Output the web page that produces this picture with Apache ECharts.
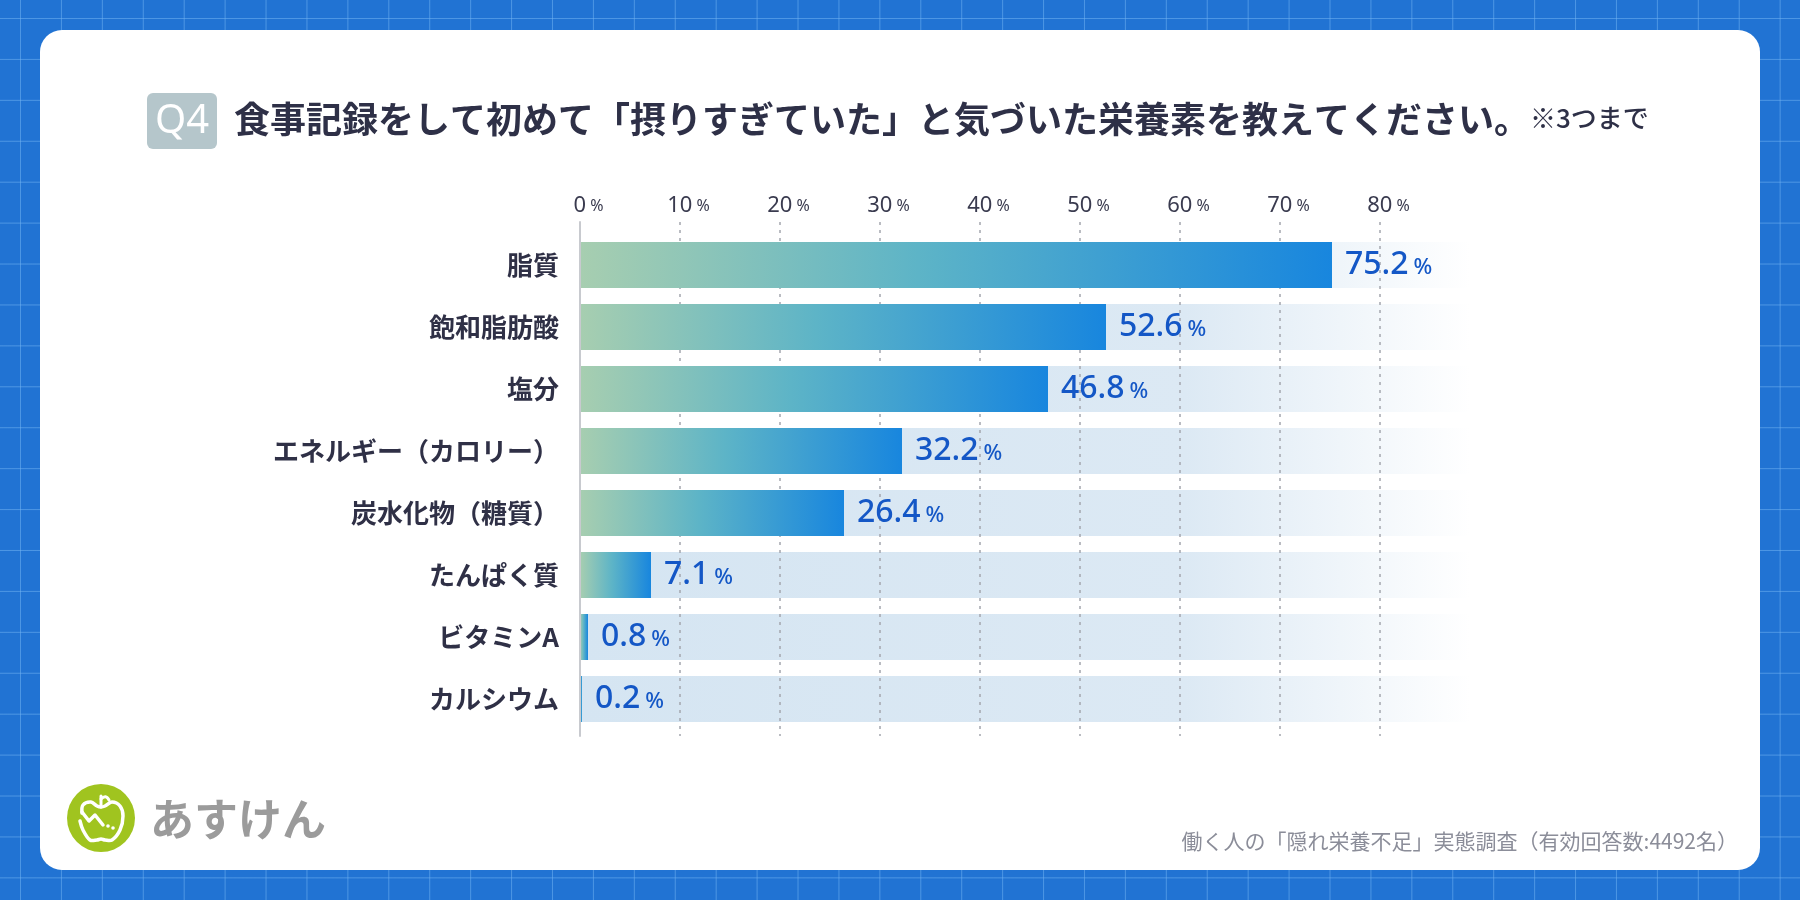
<!DOCTYPE html>
<html>
<head>
<meta charset="utf-8">
<script src="https://cdn.jsdelivr.net/npm/echarts@6/dist/echarts.min.js"></script>
<style>
html,body{margin:0;padding:0;width:1800px;height:900px;overflow:hidden;}
body{
  background-color:#2173d3;
  background-image:
    linear-gradient(to right, rgba(120,185,245,0.5) 1px, transparent 1px),
    linear-gradient(to bottom, rgba(120,185,245,0.5) 1px, transparent 1px);
  background-size:40.93px 40.93px;
  background-position:20px 18px;
  position:relative;
}
#card{position:absolute;left:40px;top:30px;width:1720px;height:840px;background:#fff;border-radius:22px;}
#chart{position:absolute;left:0;top:0;width:1800px;height:900px;}
</style>
</head>
<body>
<div id="card"></div>
<div id="chart"></div>
<script>
// ---- data ----
const categories = ['脂質','飽和脂肪酸','塩分','エネルギー（カロリー）','炭水化物（糖質）','たんぱく質','ビタミンA','カルシウム'];
const values = [75.2, 52.6, 46.8, 32.2, 26.4, 7.1, 0.8, 0.2];
const tickValues = [0, 10, 20, 30, 40, 50, 60, 70, 80];
const unit = '%';
const trackMax = 89;
const badgeText = 'Q4';
const titleText = '食事記録をして初めて「摂りすぎていた」と気づいた栄養素を教えてください。';
const titleNote = '※3つまで';
const sourceText = '働く人の「隠れ栄養不足」実態調査（有効回答数:4492名）';
const brandText = 'あすけん';

// ---- styles ----
const JP = '"Noto Sans CJK JP", "Noto Sans", sans-serif';
const NUM = '"Noto Sans", "Inter", sans-serif';
const axisMin = tickValues[0];
const axisMax = tickValues[tickValues.length - 1];
const axisStep = tickValues[1] - tickValues[0];

const chart = echarts.init(document.getElementById('chart'), null, {renderer: 'canvas'});

const barGradient = {type: 'linear', x: 0, y: 0, x2: 1, y2: 0, colorStops: [
  {offset: 0, color: '#a7ceb0'},
  {offset: 0.45, color: '#5db4c7'},
  {offset: 1, color: '#1886de'}
]};
const trackGradient = {type: 'linear', x: 0, y: 0, x2: 1, y2: 0, colorStops: [
  {offset: 0, color: '#d5e5f2'},
  {offset: 0.68, color: '#dce9f4'},
  {offset: 1, color: '#ffffff'}
]};

const option = {
  backgroundColor: 'transparent',
  animation: false,
  grid: [
    {left: 580, top: 222, width: 800, height: 514, containLabel: false},
    {left: 580, top: 234, width: 890, height: 496, containLabel: false}
  ],
  xAxis: [
    {
      gridIndex: 0, type: 'value', position: 'top', z: 2,
      min: axisMin, max: axisMax, interval: axisStep,
      axisLine: {show: false}, axisTick: {show: false},
      splitLine: {show: true, lineStyle: {color: '#a4a6ae', width: 1.5, type: [3, 5]}},
      axisLabel: {
        margin: 5,
        formatter: v => '{pad|}{n|' + v + '}{u|' + unit + '}',
        rich: {
          pad: {width: 17},
          n: {fontFamily: NUM, fontSize: 22, color: '#3a3b4f'},
          u: {fontFamily: NUM, fontSize: 16, color: '#3a3b4f', padding: [0, 0, 0, 4]}
        }
      }
    },
    {
      gridIndex: 1, type: 'value', min: 0, max: trackMax, show: false
    }
  ],
  yAxis: [
    {
      gridIndex: 0, type: 'value', min: 0, max: 1, z: 4,
      axisLine: {show: true, lineStyle: {color: '#c8cacf', width: 2}},
      axisTick: {show: false}, axisLabel: {show: false}, splitLine: {show: false}
    },
    {
      gridIndex: 1, type: 'category', inverse: true, data: categories,
      axisLine: {show: false}, axisTick: {show: false},
      axisLabel: {
        margin: 21, fontFamily: JP, fontSize: 26, fontWeight: 'bold', color: '#2f3046'
      }
    }
  ],
  series: [
    {
      name: 'track', type: 'bar', xAxisIndex: 1, yAxisIndex: 1, z: 1, silent: true,
      barWidth: 46, barGap: '-100%',
      data: categories.map(() => trackMax),
      itemStyle: {color: trackGradient}
    },
    {
      name: 'value', type: 'bar', xAxisIndex: 1, yAxisIndex: 1, z: 3,
      barWidth: 46, barGap: '-100%',
      data: values,
      itemStyle: {color: barGradient},
      label: {
        show: true, position: 'right', distance: 13,
        formatter: p => '{n|' + p.value.toFixed(1) + '}{u|' + unit + '}',
        rich: {
          n: {fontFamily: NUM, fontSize: 32, fontWeight: 500, color: '#1457c6'},
          u: {fontFamily: NUM, fontSize: 22, fontWeight: 500, color: '#1457c6', padding: [5, 0, 0, 5]}
        }
      }
    }
  ],
  graphic: [
    // badge
    {type: 'rect', shape: {x: 147, y: 93, width: 70, height: 56, r: 6}, style: {fill: '#b5c6cb'}},
    {type: 'text', x: 182, y: 122, style: {text: badgeText, fontFamily: NUM, fontSize: 40, fontWeight: 400, fill: '#ffffff', align: 'center', verticalAlign: 'middle'}},
    // title
    {type: 'text', x: 234, y: 119, style: {
      text: '{t|' + titleText + '}{s|' + titleNote + '}',
      verticalAlign: 'middle',
      rich: {
        t: {fontFamily: JP, fontSize: 36, fontWeight: 'bold', fill: '#2e3047', height: 44, verticalAlign: 'bottom'},
        s: {fontFamily: JP, fontSize: 26, fontWeight: 500, fill: '#2e3047', height: 44, verticalAlign: 'bottom', padding: [0, 0, 1, 0]}
      }
    }},
    // source
    {type: 'text', x: 1738, y: 841, style: {text: sourceText, fontFamily: JP, fontSize: 21, fill: '#8b8d99', align: 'right', verticalAlign: 'middle'}},
    // logo
    {type: 'circle', shape: {cx: 101, cy: 818, r: 34}, style: {fill: '#a0c41f'}},
    {type: 'group', x: 101, y: 818, children: [
      {type: 'polyline', shape: {smooth: 0.35, points: [[-19, -5], [-18, -13], [-10, -16], [-4, -12], [0, -11], [4, -12], [11, -16], [19, -12], [22, -2], [19, 12], [11, 22], [4, 22], [0, 21], [-4, 22], [-11, 22], [-18, 12], [-21, 3]]},
        style: {fill: null, stroke: '#ffffff', lineWidth: 3.5, lineCap: 'round', lineJoin: 'round'}},
      {type: 'line', shape: {x1: 0, y1: -11, x2: 0, y2: -22}, style: {stroke: '#ffffff', lineWidth: 3, lineCap: 'round'}},
      {type: 'bezierCurve', shape: {x1: 0, y1: -19, cpx1: 5, cpy1: -24, x2: 8, y2: -18}, style: {fill: null, stroke: '#ffffff', lineWidth: 3, lineCap: 'round'}},
      {type: 'polyline', shape: {points: [[-19, -6], [-12, 3], [-6, -3], [2, 7]]},
        style: {fill: null, stroke: '#ffffff', lineWidth: 3.5, lineCap: 'round', lineJoin: 'round'}},
      {type: 'circle', shape: {cx: 7, cy: 8, r: 1.8}, style: {fill: '#ffffff'}},
      {type: 'circle', shape: {cx: 12, cy: 10, r: 1.8}, style: {fill: '#ffffff'}}
    ]},
    {type: 'text', x: 150, y: 819, style: {text: brandText, fontFamily: '"Noto Sans CJK JP", sans-serif', fontSize: 44, fontWeight: 'bold', fill: '#9b9b9b', verticalAlign: 'middle'}}
  ]
};
chart.setOption(option);
</script>
</body>
</html>
